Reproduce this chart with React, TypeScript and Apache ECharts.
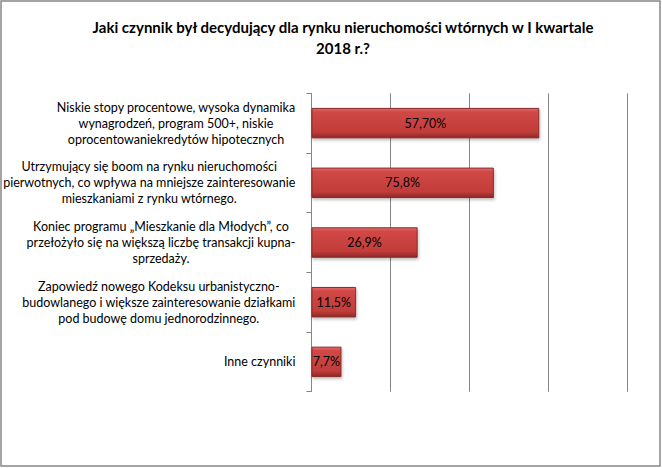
import React, { useEffect, useRef } from "react";
import * as echarts from "echarts";

const titleText = "Jaki czynnik był decydujący dla rynku nieruchomości wtórnych w I kwartale\n2018 r.?";

const categories = [
  "Niskie stopy procentowe, wysoka dynamika\nwynagrodzeń, program 500+, niskie\noprocentowaniekredytów hipotecznych",
  "Utrzymujący się boom na rynku nieruchomości\npierwotnych, co wpływa na mniejsze zainteresowanie\nmieszkaniami z rynku wtórnego.",
  "Koniec programu „Mieszkanie dla Młodych”, co\nprzełożyło się na większą liczbę transakcji kupna-\nsprzedaży.",
  "Zapowiedź nowego Kodeksu urbanistyczno-\nbudowlanego i większe zainteresowanie działkami\npod budowę domu jednorodzinnego.",
  "Inne czynniki",
];

// bar lengths as drawn in the picture
const values = [57.7, 46.2, 26.9, 11.3, 7.6];
// data labels as printed on the bars
const valueLabels = ["57,70%", "75,8%", "26,9%", "11,5%", "7,7%"];

const axisMin = 0;
const axisMax = 80;
const axisInterval = 20;

const FONT = "Lato";

export default function App() {
  const ref = useRef<HTMLDivElement>(null);
  useEffect(() => {
    if (!ref.current) return;
    const chart = echarts.init(ref.current, undefined, { renderer: "svg" });
    const barGradient = new echarts.graphic.LinearGradient(0, 0, 0, 1, [
      { offset: 0, color: "#e56c6a" },
      { offset: 0.12, color: "#d04846" },
      { offset: 0.8, color: "#c23d3b" },
      { offset: 1, color: "#8e2826" },
    ]);
    chart.setOption({
      animation: false,
      backgroundColor: "#ffffff",
      title: {
        text: titleText,
        left: 338,
        textAlign: "center",
        top: 11,
        textStyle: {
          fontFamily: FONT,
          fontWeight: "bold",
          fontSize: 15,
          lineHeight: 21,
          color: "#000000",
        },
      },
      graphic: [
        {
          type: "rect",
          shape: { x: 1, y: 1, width: 659, height: 465 },
          style: { fill: "none", stroke: "#868686", lineWidth: 1.5 },
          silent: true,
          z: 100,
        },
      ],
      grid: {
        left: 308.7,
        right: 34.7,
        top: 93.3,
        bottom: 76.3,
        containLabel: false,
      },
      xAxis: {
        type: "value",
        min: axisMin,
        max: axisMax,
        interval: axisInterval,
        axisLabel: { show: false },
        axisTick: { show: false },
        axisLine: { show: false },
        splitLine: { show: true, lineStyle: { color: "#868686", width: 1 } },
      },
      yAxis: {
        type: "category",
        inverse: true,
        data: categories,
        axisLine: { show: true, lineStyle: { color: "#868686", width: 1 } },
        axisTick: { show: true, length: 5, lineStyle: { color: "#868686" } },
        axisLabel: {
          margin: 16,
          align: "right",
          formatter: (v: string) =>
            v
              .split("\n")
              .map((l) => "{c|" + l + "}")
              .join("\n"),
          rich: {
            c: {
              align: "center",
              fontFamily: FONT,
              fontSize: 12.5,
              lineHeight: 16,
              color: "#000000",
            },
          },
        },
      },
      series: [
        {
          type: "bar",
          data: values,
          barWidth: "51%",
          itemStyle: {
            color: barGradient,
            borderColor: "#8a2a28",
            borderWidth: 1,
            shadowColor: "rgba(0,0,0,0.25)",
            shadowBlur: 3,
            shadowOffsetX: 1,
            shadowOffsetY: 2,
          },
          label: {
            show: true,
            position: "inside",
            formatter: (p: any) => valueLabels[p.dataIndex],
            fontFamily: FONT,
            fontSize: 12.5,
            color: "#000000",
          },
        },
      ],
    });
    return () => chart.dispose();
  }, []);
  return (
    <div
      ref={ref}
      style={{ position: "fixed", left: 0, top: 0, width: 662, height: 468 }}
    />
  );
}
